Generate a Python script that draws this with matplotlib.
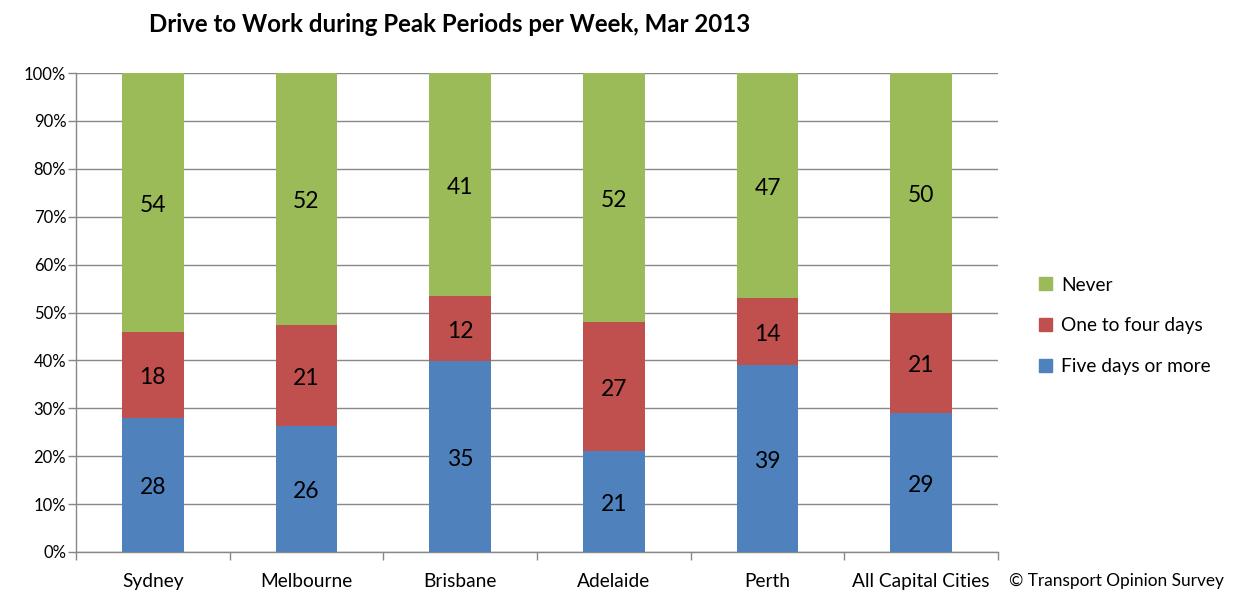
import matplotlib
matplotlib.use('Agg')
import matplotlib.pyplot as plt
import numpy as np
from matplotlib.patches import Patch

plt.rcParams['font.family'] = ['Lato', 'DejaVu Sans']

cities = ['Sydney', 'Melbourne', 'Brisbane', 'Adelaide', 'Perth', 'All Capital Cities']
five_plus = [28, 26, 35, 21, 39, 29]
one_to_four = [18, 21, 12, 27, 14, 21]
never = [54, 52, 41, 52, 47, 50]
series_names = ['Five days or more', 'One to four days', 'Never']
colors = ['#4F81BD', '#C0504D', '#9BBB59']

data = np.array([five_plus, one_to_four, never], dtype=float)
totals = data.sum(axis=0)
shares = data / totals * 100

fig = plt.figure(figsize=(12.34, 5.92), dpi=100)
ax = fig.add_axes([76/1234, 40/592, 922/1234, 479/592])

x = np.arange(len(cities))
bottom = np.zeros(len(cities))
for i in range(3):
    ax.bar(x, shares[i], bottom=bottom, width=0.4, color=colors[i], zorder=3)
    for j in range(len(cities)):
        ax.text(x[j], bottom[j] + shares[i][j] / 2 - 0.6, '%d' % data[i][j],
                ha='center', va='center', fontsize=16.5, color='black', zorder=4)
    bottom += shares[i]

ax.set_xlim(-0.5, len(cities) - 0.5)
ax.set_ylim(0, 100)
ax.set_yticks(np.arange(0, 101, 10))
ax.set_yticklabels(['%d%%' % v for v in range(0, 101, 10)], fontsize=12)
ax.yaxis.grid(True, color='#888888', linewidth=1, zorder=0)

ax.set_xticks(x)
ax.set_xticklabels(cities, fontsize=13.8)
ax.tick_params(axis='x', length=0, pad=15)
ax.set_xticks(np.arange(-0.5, len(cities)), minor=True)
ax.tick_params(axis='x', which='minor', length=6, color='#888888', width=1)
ax.tick_params(axis='y', length=6, color='#888888', width=1, pad=1)

for side in ['top', 'right']:
    ax.spines[side].set_visible(False)
for side in ['left', 'bottom']:
    ax.spines[side].set_color('#888888')
    ax.spines[side].set_linewidth(1)

handles = [Patch(color=colors[k], label=series_names[k]) for k in [2, 1, 0]]
fig.legend(handles=handles, loc='center left', bbox_to_anchor=(1022/1234, 1 - 326/592),
           frameon=False, fontsize=13.8, handlelength=0.65, handleheight=0.65,
           handletextpad=0.5, labelspacing=1.25)

fig.text(450/1234, 1 - 25/592, 'Drive to Work during Peak Periods per Week, Mar 2013',
         ha='center', va='center', fontsize=17.3, fontweight='bold')
fig.text(1116/1234, 1 - 581/592, '\u00a9 Transport Opinion Survey',
         ha='center', va='center', fontsize=12.4)

fig.savefig('out.png', dpi=100)
